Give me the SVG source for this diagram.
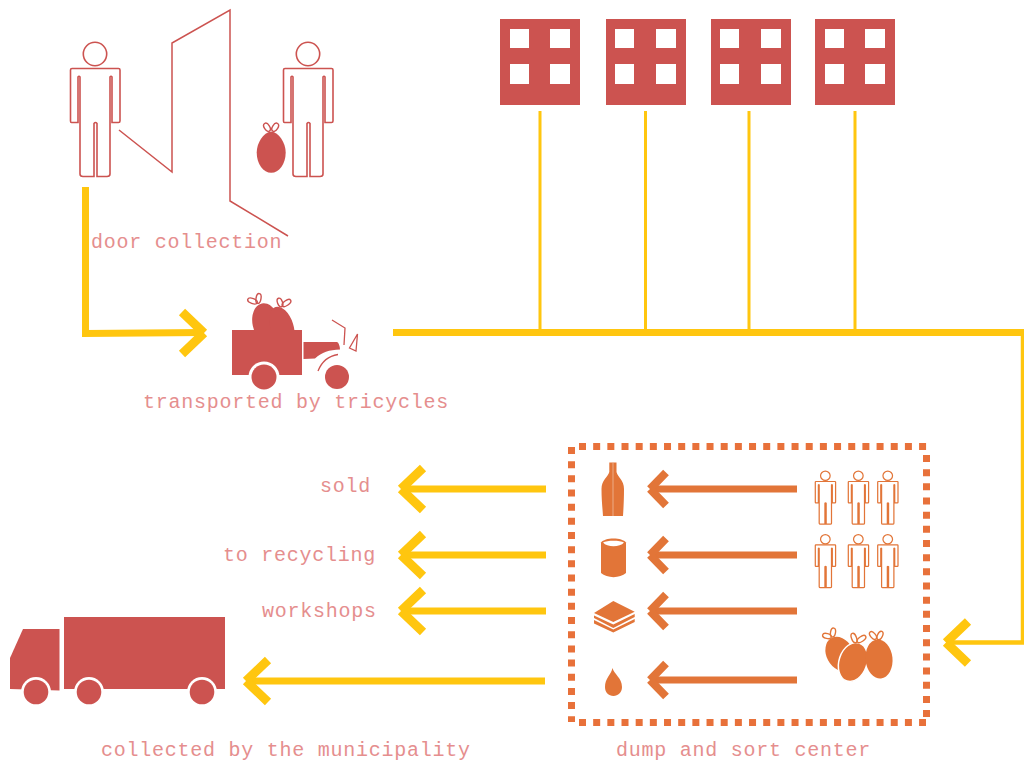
<svg xmlns="http://www.w3.org/2000/svg" width="1024" height="765" viewBox="0 0 1024 765">
<style>
.lbl{font-family:"Liberation Mono","DejaVu Sans Mono",monospace;font-size:20px;letter-spacing:.75px;fill:#E58E8E}
.red{fill:#CC5350}
.org{fill:#E27538}
.y{fill:none;stroke:#FFC60F;stroke-width:7}
.yc{fill:none;stroke:#FFC60F;stroke-width:9}
.o{fill:none;stroke:#E27538;stroke-width:7}
.oc{fill:none;stroke:#E27538;stroke-width:8}
.dash{fill:none;stroke:#E8713A;stroke-width:7;stroke-dasharray:7 7.17}
.p{fill:none;stroke-width:1.600}
.ps{fill:none;stroke-width:3}
.tie{fill:none;stroke-width:1.400}
</style>
<defs>
<g id="person">
<circle cx="95" cy="54" r="11.700"/>
<path d="M72 68.500H118.500Q120 68.500 120 70V121Q120 122.500 118.500 122.500H112V77Q111 75.500 110 77V174Q110 176.500 107 176.500H97V123.500Q95.500 121.500 94 123.500V176.500H83Q80 176.500 80 174V77Q79 75.500 78 77V122.500H71.500Q70.500 122.500 70.500 121V70Q70.500 68.500 72 68.500Z"/>
</g>
<path id="chev" d="M24-21L2 0M24 21L2 0"/>
<path id="ochev" d="M18-16.500L2 0M18 16.500L2 0"/>
</defs>

<g id="connectors">
<path class="y" d="M85.500 187V333.500L204 332.500"/>
<use href="#chev" class="yc" transform="translate(206 333) scale(-1 1)"/>
<path class="y" d="M393 332.500H1024"/>
<path class="y" style="stroke-width:3" d="M540 111V332M645.500 111V332M749 111V332M855 111V332"/>
<path class="y" style="stroke-width:4.500" d="M1023 332V642.500H946"/>
<use href="#chev" class="yc" x="944" y="642.500"/>
<path class="y" d="M546 489H402M546 555H402M546 611H402M545 681H246"/>
<use href="#chev" class="yc" x="399" y="489"/>
<use href="#chev" class="yc" x="399" y="555"/>
<use href="#chev" class="yc" x="399" y="611"/>
<use href="#chev" class="yc" x="244" y="681"/>
<path class="o" d="M797 489H650M797 555H650M797 611H650M797 680H650"/>
<use href="#ochev" class="oc" x="648" y="489"/>
<use href="#ochev" class="oc" x="648" y="555"/>
<use href="#ochev" class="oc" x="648" y="611"/>
<use href="#ochev" class="oc" x="648" y="680"/>
</g>

<g id="person-door" stroke="#CC5350" class="p"><use href="#person"/></g>
<g id="door"><path fill="none" stroke="#CC5350" stroke-width="1.500" d="M119 130L172 172V43L230 10V201L288 236"/></g>
<g id="person-bag" stroke="#CC5350" class="p"><use href="#person" x="213"/></g>
<g id="bag-door" class="red" stroke="#CC5350">
<path stroke="none" d="M271.200 131.500C279 132.500 285.700 143 285.700 152.500C285.700 164 279 172.800 271.200 172.800C263.400 172.800 256.700 164 256.700 152.500C256.700 143 263.400 132.500 271.200 131.500Z"/>
<ellipse class="tie" cx="267" cy="127.300" rx="2.700" ry="4.500" transform="rotate(-32 267 127.300)"/>
<ellipse class="tie" cx="275.200" cy="127.300" rx="2.700" ry="4.500" transform="rotate(32 275.200 127.300)"/>
</g>
<text class="lbl" x="91" y="248">door collection</text>

<g id="building-1" class="red"><path fill-rule="evenodd" d="M500 19h80v86h-80zM510 29v19h19v-19zM550 29v19h20v-19zM510 64v20h19v-20zM550 64v20h20v-20z"/></g>
<g id="building-2" class="red"><path fill-rule="evenodd" d="M606 19h80v86h-80zM615 29v19h19v-19zM656 29v19h20v-19zM615 64v20h19v-20zM656 64v20h20v-20z"/></g>
<g id="building-3" class="red"><path fill-rule="evenodd" d="M711 19h80v86h-80zM720 29v19h19v-19zM761 29v19h20v-19zM720 64v20h19v-20zM761 64v20h20v-20z"/></g>
<g id="building-4" class="red"><path fill-rule="evenodd" d="M815 19h80v86h-80zM825 29v19h19v-19zM865 29v19h20v-19zM825 64v20h19v-20zM865 64v20h20v-20z"/></g>

<g id="tricycle">
<g class="red" stroke="#CC5350">
<ellipse stroke="none" cx="266" cy="323" rx="13.500" ry="20" transform="rotate(-12 266 323)"/>
<ellipse stroke="none" cx="282" cy="327" rx="11.500" ry="21" transform="rotate(-18 282 327)"/>
<ellipse class="tie" cx="258.500" cy="298.500" rx="2.500" ry="5" transform="rotate(10 258.500 298.500)"/>
<ellipse class="tie" cx="252.500" cy="301" rx="2.500" ry="5" transform="rotate(-70 252.500 301)"/>
<ellipse class="tie" cx="280" cy="302.500" rx="2.500" ry="4.500" transform="rotate(-20 280 302.500)"/>
<ellipse class="tie" cx="286.500" cy="303" rx="2.500" ry="5" transform="rotate(55 286.500 303)"/>
</g>
<rect class="red" x="232" y="330" width="70" height="45"/>
<circle cx="264" cy="377" r="15.500" fill="#fff"/>
<circle class="red" cx="264" cy="377" r="12.500"/>
<circle class="red" cx="337" cy="377" r="12"/>
<path class="red" d="M303.500 342H337Q339.500 343 340 349.500C329 350 322 352 315 358.500L303.500 359Z"/>
<path fill="none" stroke="#CC5350" stroke-width="1.300" d="M318 371C322 361 328 356 338 354.500M332 320L345 328L344 345M357.500 334L349.500 348L356 351L357.500 334Z"/>
</g>
<text class="lbl" x="143" y="408">transported by tricycles</text>

<g id="sort-center">
<path class="dash" d="M579 446.500H930M926.500 455V722M579 722.500H926M571.500 447V722"/>
</g>
<g id="workers" stroke="#E27538" class="ps">
<use href="#person" transform="translate(815.300 471) scale(.41 .395) translate(-70.500 -42)"/>
<use href="#person" transform="translate(848.300 471) scale(.41 .395) translate(-70.500 -42)"/>
<use href="#person" transform="translate(877.700 471) scale(.41 .395) translate(-70.500 -42)"/>
<use href="#person" transform="translate(815.300 534.500) scale(.41 .395) translate(-70.500 -42)"/>
<use href="#person" transform="translate(848.300 534.500) scale(.41 .395) translate(-70.500 -42)"/>
<use href="#person" transform="translate(877.700 534.500) scale(.41 .395) translate(-70.500 -42)"/>
</g>
<g id="bags" class="org" stroke="#E27538">
<ellipse stroke="none" cx="840" cy="654" rx="13.500" ry="18" transform="rotate(-28 840 654)"/>
<ellipse cx="853" cy="662" rx="14" ry="20" transform="rotate(18 853 662)" stroke="#fff" stroke-width="1.500"/>
<ellipse stroke="none" cx="879" cy="659" rx="13.500" ry="19.500" transform="rotate(-6 879 659)"/>
<ellipse class="tie" cx="833" cy="632.500" rx="2.500" ry="4.500" transform="rotate(10 833 632.500)"/>
<ellipse class="tie" cx="827" cy="636" rx="2.500" ry="4.500" transform="rotate(-75 827 636)"/>
<ellipse class="tie" cx="854" cy="638" rx="2.500" ry="5" transform="rotate(-20 854 638)"/>
<ellipse class="tie" cx="861.500" cy="639" rx="2.500" ry="5" transform="rotate(55 861.500 639)"/>
<ellipse class="tie" cx="873" cy="635.500" rx="2.500" ry="4.500" transform="rotate(-40 873 635.500)"/>
<ellipse class="tie" cx="880" cy="635.500" rx="2.500" ry="4.500" transform="rotate(25 880 635.500)"/>
</g>
<g id="bottle"><path class="org" d="M609.300 462.500H616.500V472C617.500 477 624 480 624 489C624 500 623.500 508 623 516H603C602.500 508 601.500 500 601.500 489C601.500 480 608 477 609.300 472Z"/><path d="M613 463V516" stroke="#fff" stroke-opacity=".5" stroke-width=".8"/></g>
<g id="can"><path class="org" d="M601 542.500C603 540 608 538.500 613.500 538.500C619 538.500 624 540 626 542.500V573C620 578.500 607 578.500 601 573Z"/><path fill="#fff" d="M603 542.500C607 540 620 540 624 542.500C620 547.500 607 547.500 603 542.500Z"/></g>
<g id="paper" class="org"><path d="M594 613L613.300 601L634.700 611.700L613.300 622Z"/><path d="M594 615.500L613.300 624.500L634.700 614V617L613.300 628L594 618Z"/><path d="M594 620L613.300 629.500L634.700 619V622L613.300 632.500L594 623.500Z"/></g>
<g id="drop"><path class="org" d="M612.500 668C614 674 622 678 622 687C622 692.500 618 696 613.500 696C608.500 696 605 692.500 605 687C605 678 611 675 612.500 668Z"/></g>
<text class="lbl" x="616" y="756">dump and sort center</text>

<text class="lbl" x="320" y="492">sold</text>
<text class="lbl" x="223" y="561">to recycling</text>
<text class="lbl" x="262" y="617">workshops</text>

<g id="truck">
<rect class="red" x="64" y="617" width="161" height="72"/>
<path class="red" d="M10 658L23 629H59.500V690.500L10 689Z"/>
<circle cx="36" cy="692" r="15" fill="#fff"/><circle cx="89" cy="692" r="15" fill="#fff"/><circle cx="202" cy="692" r="15" fill="#fff"/>
<circle class="red" cx="36" cy="692" r="12.300"/><circle class="red" cx="89" cy="692" r="12.300"/><circle class="red" cx="202" cy="692" r="12.300"/>
</g>
<text class="lbl" x="101" y="756">collected by the municipality</text>
</svg>
